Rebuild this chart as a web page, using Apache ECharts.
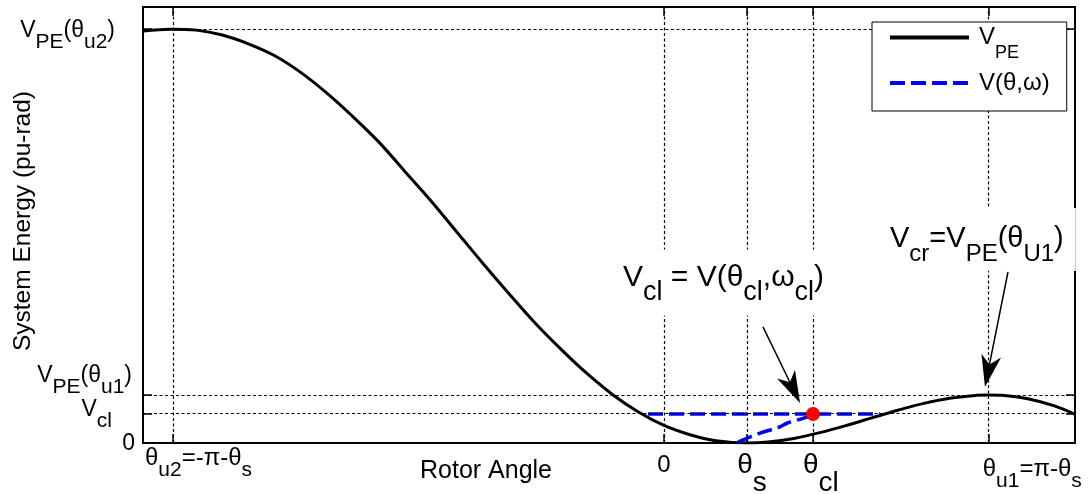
<!DOCTYPE html>
<html><head><meta charset="utf-8">
<script src="https://cdn.jsdelivr.net/npm/echarts@6/dist/echarts.min.js"></script>
<style>html,body{margin:0;padding:0;background:#fff}#c{width:1088px;height:494px}</style>
</head><body><div id="c"></div>
<script>
// ---- data (rotor angle in rad, energy in pu-rad) ----
const theta = [-4.01,-3.8,-3.6,-3.4,-3.2,-3.0,-2.8,-2.6,-2.4,-2.2,-2.0,-1.8,-1.6,-1.4,-1.2,-1.0,-0.8,-0.6,-0.4,-0.2,0,0.2,0.4,0.64,0.8,1.0,1.2,1.4,1.6,1.8,2.0,2.2,2.4,2.5,2.6,2.8,3.0,3.16];
const vpe   = [4.22,4.24,4.23,4.18,4.09,3.97,3.80,3.59,3.35,3.09,2.79,2.49,2.17,1.85,1.54,1.24,0.97,0.72,0.50,0.32,0.18,0.085,0.024,0,0.01,0.047,0.106,0.178,0.258,0.336,0.406,0.459,0.488,0.493,0.489,0.454,0.383,0.297];
const faultTheta = [0.57,0.66,0.74,0.89,0.95,1.10,1.147];
const faultV     = [0.01,0.061,0.102,0.164,0.205,0.266,0.297];
const postTheta  = [-0.123,1.663];
const postV      = [0.297,0.297];
const thetaU2 = -3.78, theta0 = 0, thetaS = 0.64, thetaCl = 1.147, thetaU1 = 2.50;
const vU2 = 4.24, vU1 = 0.495, vCl = 0.297, v0 = 0;
const xTicks = [thetaU2, theta0, thetaS, thetaCl, thetaU1];
const yTicks = [v0, vCl, vU1, vU2];
const xMin = -4.011, xMax = 3.164, yMin = 0, yMax = 4.467;
const legendNames = ['V_PE', 'V(θ,ω)'];
// annotation anchors in data units
const annot1Pos = [-0.316, 1.644];
const annot2Pos = [1.740, 2.085];
const arrow1 = [[0.762, 1.189], [1.047, 0.410]];
const arrow2 = [[2.648, 1.752], [2.471, 0.574]];

const FF = '"Liberation Sans", Arial, Helvetica, sans-serif';
function richSet(n, s, shift) {
  return {
    n: {fontSize: n, fontFamily: FF, fill: '#000', color: '#000'},
    s: {fontSize: s, fontFamily: FF, fill: '#000', color: '#000', padding: [2 * shift, 0, 0, 0]}
  };
}

const axisCommon = {
  type: 'value',
  axisLine: {show: true, onZero: false, lineStyle: {color: '#000', width: 2}},
  axisLabel: {show: false},
  splitLine: {show: false}
};
const tickStyle = {show: true, inside: true, length: 9, lineStyle: {color: '#000', width: 1.5}};

const option = {
  animation: false,
  backgroundColor: '#fff',
  grid: {left: 143, right: 13, top: 7, bottom: 51},
  xAxis: [
    Object.assign({}, axisCommon, {min: xMin, max: xMax, position: 'bottom', axisTick: Object.assign({customValues: xTicks}, tickStyle)}),
    Object.assign({}, axisCommon, {min: xMin, max: xMax, position: 'top', axisTick: Object.assign({customValues: xTicks}, tickStyle)})
  ],
  yAxis: [
    Object.assign({}, axisCommon, {min: yMin, max: yMax, position: 'left', axisTick: Object.assign({customValues: yTicks}, tickStyle)}),
    Object.assign({}, axisCommon, {min: yMin, max: yMax, position: 'right', axisTick: Object.assign({customValues: yTicks}, tickStyle)})
  ],
  legend: {
    orient: 'vertical', left: 872, top: 22,
    padding: [3.5, 17, 16, 16], itemGap: 8.5, itemWidth: 79, itemHeight: 14,
    backgroundColor: '#fff', borderColor: '#000', borderWidth: 1, borderRadius: 0,
    selectedMode: false, z: 10,
    lineStyle: {width: 4},
    itemStyle: {opacity: 0},
    data: legendNames,
    formatter: function (name) { return name === 'V_PE' ? '{f|V}{ls|PE}' : '{f|V(θ,ω)}'; },
    textStyle: {
      fontFamily: FF, fontSize: 24, color: '#000',
      rich: {
        f: {fontFamily: FF, fontSize: 24, color: '#000', padding: [0, 0, 0, 5]},
        ls: {fontFamily: FF, fontSize: 18, color: '#000', padding: [32, 0, 0, 0]}
      }
    }
  },
  series: [
    {
      name: 'V_PE', type: 'line', symbol: 'none', smooth: 0.35, z: 3,
      data: theta.map((t, i) => [t, vpe[i]]),
      lineStyle: {color: '#000', width: 3},
      itemStyle: {color: '#000', opacity: 0},
      markLine: {
        silent: true, symbol: ['none', 'none'], animation: false,
        label: {show: false},
        lineStyle: {color: '#000', width: 1.2, type: [3, 2.5], opacity: 1},
        emphasis: {disabled: true},
        data: xTicks.map(v => ({xAxis: v})).concat([vU2, vU1, vCl].map(v => ({yAxis: v})))
      }
    },
    {
      name: 'V(θ,ω)', type: 'line', symbol: 'none', smooth: 0.3, z: 4,
      data: faultTheta.map((t, i) => [t, faultV[i]]),
      lineStyle: {color: '#0000ff', width: 3.5, type: [15, 6]},
      itemStyle: {color: '#0000ff', opacity: 0}
    },
    {
      name: 'V(θ,ω)', type: 'line', symbol: 'none', z: 4,
      data: postTheta.map((t, i) => [t, postV[i]]),
      lineStyle: {color: '#0000ff', width: 3.5, type: [15, 6]},
      itemStyle: {color: '#0000ff', opacity: 0}
    },
    {
      name: 'clear', type: 'scatter', z: 6, symbolSize: 14,
      data: [[thetaCl, vCl]],
      itemStyle: {color: '#ff0000', opacity: 1}
    }
  ]
};

const chart = echarts.init(document.getElementById('c'));
chart.setOption(option);

const P = (x, y) => chart.convertToPixel({seriesIndex: 0}, [x, y]);
const gl = P(xMin, 0)[0];

function txt(x, y, text, rich, align, extra) {
  return {
    type: 'text', x: x, y: y, z: 100,
    style: Object.assign({text: text, rich: rich, align: align, verticalAlign: 'middle', fill: '#000', fontFamily: FF, fontSize: 22}, extra || {})
  };
}
function arrowEls(s, t, L, W) {
  const dx = t[0] - s[0], dy = t[1] - s[1], d = Math.hypot(dx, dy);
  const ux = dx / d, uy = dy / d, nx = -uy, ny = ux;
  const bx = t[0] - ux * L, by = t[1] - uy * L;
  const mx = t[0] - ux * L * 0.72, my = t[1] - uy * L * 0.72;
  return [
    {type: 'line', z: 95, shape: {x1: s[0], y1: s[1], x2: mx, y2: my}, style: {stroke: '#000', lineWidth: 1.5}},
    {type: 'polygon', z: 95, shape: {points: [t, [bx + nx * W, by + ny * W], [mx, my], [bx - nx * W, by - ny * W]]}, style: {fill: '#000'}}
  ];
}

const rY = richSet(23, 21, 12);
const rX = richSet(24, 21, 12);
const rBig = richSet(28, 28, 18);
const rA1 = richSet(30, 27, 15);
const rA2 = richSet(29, 24, 15);

const a1 = P(annot1Pos[0], annot1Pos[1]);
const a2 = P(annot2Pos[0], annot2Pos[1]);

const graphics = [
  // y tick labels
  txt(gl - 28, P(0, vU2)[1] + 1, '{n|V}{s|PE}{n|(θ}{s|u2}{n|)}', rY, 'right'),
  txt(gl - 11, P(0, vU1)[1] - 19, '{n|V}{s|PE}{n|(θ}{s|u1}{n|)}', rY, 'right'),
  txt(gl - 31, P(0, vCl)[1] - 4.5, '{n|V}{s|cl}', rY, 'right'),
  txt(gl - 8, P(0, v0)[1] + 1, '{n|0}', rY, 'right'),
  // x tick labels
  txt(P(thetaU2, 0)[0] - 28, P(0, 0)[1] + 15.5, '{n|θ}{s|u2}{n|=-π-θ}{s|s}', rX, 'left'),
  txt(P(theta0, 0)[0], P(0, 0)[1] + 22, '{n|0}', rX, 'center'),
  txt(P(thetaS, 0)[0] - 10, P(0, 0)[1] + 22, '{n|θ}{s|s}', rBig, 'left'),
  txt(P(thetaCl, 0)[0] - 10, P(0, 0)[1] + 22, '{n|θ}{s|cl}', rBig, 'left'),
  txt(P(thetaU1, 0)[0] - 6, P(0, 0)[1] + 26.5, '{n|θ}{s|u1}{n|=π-θ}{s|s}', rX, 'left'),
  // axis titles
  {type: 'text', x: 486, y: 471, z: 100, style: {text: 'Rotor Angle', fontFamily: FF, fontSize: 25, fill: '#000', align: 'center', verticalAlign: 'middle'}},
  {type: 'text', x: 23, y: 221, rotation: Math.PI / 2, z: 100, style: {text: 'System Energy (pu-rad)', fontFamily: FF, fontSize: 24.5, fill: '#000', align: 'center', verticalAlign: 'middle'}},
  // annotations
  txt(a1[0] - 10, a1[1], '{n|V}{s|cl}{n| = V(θ}{s|cl}{n|,ω}{s|cl}{n|)}', rA1, 'left', {backgroundColor: '#fff', padding: [0, 10, 9, 10]}),
  txt(a2[0] - 12, a2[1], '{n|V}{s|cr}{n|=V}{s|PE}{n|(θ}{s|U1}{n|)}', rA2, 'left', {backgroundColor: '#fff', padding: [4, 12, 5, 12]})
].concat(
  arrowEls(P(arrow1[0][0], arrow1[0][1]), P(arrow1[1][0], arrow1[1][1]), 32, 10),
  arrowEls(P(arrow2[0][0], arrow2[0][1]), P(arrow2[1][0], arrow2[1][1]), 32, 10)
);

chart.setOption({graphic: graphics});
</script>
</body></html>
